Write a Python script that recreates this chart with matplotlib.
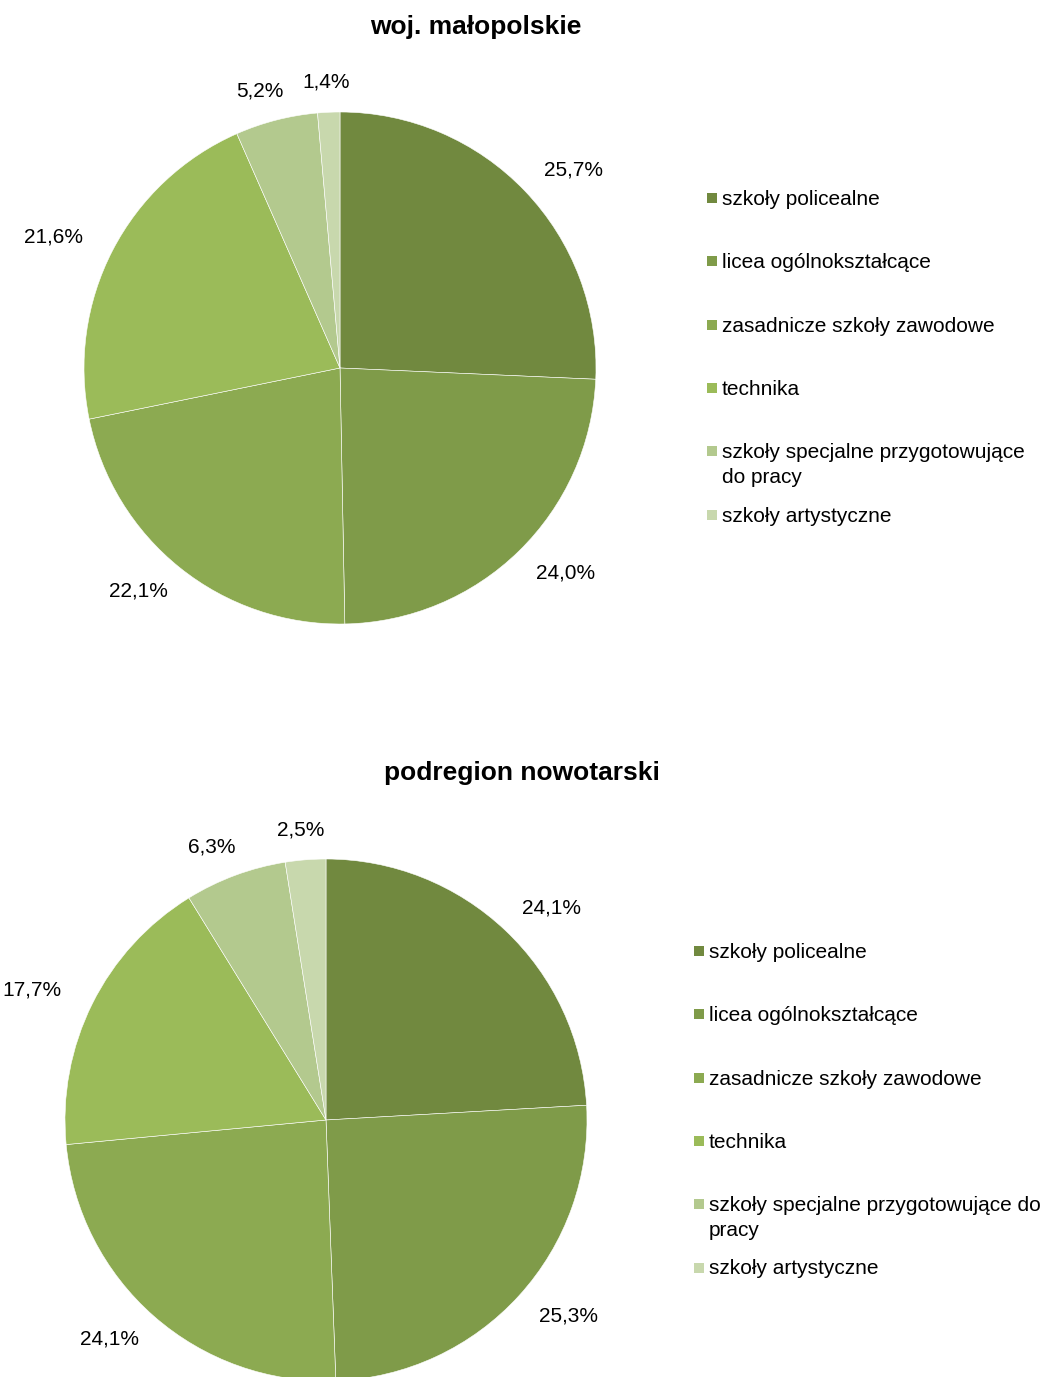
import textwrap
import numpy as np
import matplotlib
matplotlib.use("Agg")
import matplotlib.pyplot as plt
from matplotlib.patches import Rectangle

plt.rcParams['font.family'] = ['Liberation Sans', 'DejaVu Sans']

categories = [
    "szkoły policealne",
    "licea ogólnokształcące",
    "zasadnicze szkoły zawodowe",
    "technika",
    "szkoły specjalne przygotowujące do pracy",
    "szkoły artystyczne",
]
colors = ["#71893f", "#7f9b49", "#8caa51", "#9bbb59", "#b3c98e", "#c8d8ad"]

malopolskie = [25.7, 24.0, 22.1, 21.6, 5.2, 1.4]
nowotarski = [24.1, 25.3, 24.1, 17.7, 6.3, 2.5]

W, H = 1051, 1377
fig = plt.figure(figsize=(W / 100, H / 100), dpi=100)


def px_axes(cx, cy, r):
    # square axes centred on (cx, cy) in pixel coords measured from top-left
    return fig.add_axes([(cx - r) / W, (H - cy - r) / H, 2 * r / W, 2 * r / H])


def draw_pie(title, title_xy, values, center, radius, legend_xy, wrap):
    ax = px_axes(center[0], center[1], radius)
    wedges, _ = ax.pie(values, colors=colors, startangle=90, counterclock=False,
                       radius=1.0, wedgeprops=dict(linewidth=0.4, edgecolor="white"))
    ax.set_xlim(-1, 1)
    ax.set_ylim(-1, 1)
    ax.set_aspect("equal")
    ax.axis("off")

    # value labels outside each wedge, pushed further out sideways than vertically
    rx = 1.0 + 67 / radius
    ry = 1.0 + 30 / radius
    for w, v in zip(wedges, values):
        ang = np.deg2rad((w.theta1 + w.theta2) / 2)
        ax.text(rx * np.cos(ang), ry * np.sin(ang), f"{v:.1f}%".replace(".", ","),
                ha="center", va="center", fontsize=15, color="#000000", clip_on=False)

    fig.text(title_xy[0] / W, 1 - title_xy[1] / H, title, ha="center",
             va="center", fontsize=19, fontweight="bold")

    # legend
    lx, ly = legend_xy
    for i, (cat, col) in enumerate(zip(categories, colors)):
        y = ly + i * 63.3
        fig.patches.append(Rectangle((lx / W, 1 - (y + 5) / H), 10 / W, 10 / H,
                                     transform=fig.transFigure, facecolor=col,
                                     edgecolor="none"))
        fig.text((lx + 15) / W, 1 - (y - 8) / H, textwrap.fill(cat, wrap),
                 ha="left", va="top", fontsize=15, linespacing=1.38)


draw_pie("woj. małopolskie", (476, 27), malopolskie, (340, 368), 256, (707, 198), 32)
draw_pie("podregion nowotarski", (522, 773), nowotarski, (326, 1120), 261, (694, 951), 35)

fig.savefig("out.png", dpi=100)
